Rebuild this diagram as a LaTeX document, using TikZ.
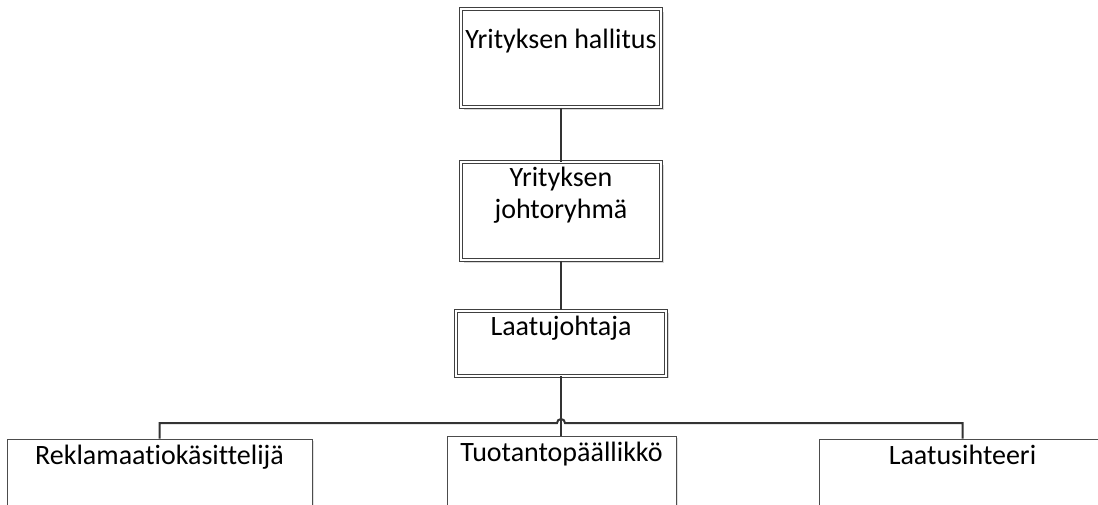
\documentclass[tikz,border=0pt]{standalone}
\usepackage{fontspec}
\setmainfont{Carlito}[Ligatures=NoCommon]
\usetikzlibrary{positioning,shadows}

\tikzset{
  orgbox/.style={draw=black!75, fill=white, double, double distance=2pt,
    line width=1pt, inner sep=0pt,
    drop shadow={shadow xshift=2.5pt, shadow yshift=-2.5pt, fill=black!25, opacity=.6}},
  unitbox/.style={draw=black!70, fill=white, line width=1pt, inner sep=0pt,
    minimum height=90pt,
    drop shadow={shadow xshift=2pt, shadow yshift=-2pt, fill=black!20, opacity=.6}},
  boxtext/.style={inner sep=0pt, font=\fontsize{28}{32}\selectfont, align=center},
  link/.style={draw=black!80, line width=2pt}
}

\begin{document}
\begin{tikzpicture}[x=1pt,y=-1pt]
  \clip (0,0) rectangle (1098,505);
  \fill[white] (0,0) rectangle (1098,505);
%
  \node[orgbox, minimum width=200pt, minimum height=98pt] (hallitus) at (561,58.5) {};
  \node[orgbox, minimum width=200pt, minimum height=98pt] (johto) at (561,211.5) {};
  \node[orgbox, minimum width=210pt, minimum height=65pt] (laatu) at (561,343) {};
%
  \node[unitbox, minimum width=305pt] (rekla) at (159.5,484) {};
  \node[unitbox, minimum width=229pt] (tuotanto) at (561.5,481) {};
  \node[unitbox, minimum width=287pt] (sihteeri) at (962.5,484) {};
%
  \node[boxtext, below=20pt of hallitus.north] (hallitusTxt) {Yrityksen hallitus};
  \node[boxtext, below=5pt of johto.north] (johtoTxt) {Yrityksen\\johtoryhmä};
  \node[boxtext, below=6pt of laatu.north] (laatuTxt) {Laatujohtaja};
  \node[boxtext, below=6pt of rekla.north] (reklaTxt) {Reklamaatiokäsittelijä};
  \node[boxtext, below=6pt of tuotanto.north] (tuotantoTxt) {Tuotantopäällikkö};
  \node[boxtext, below=6pt of sihteeri.north] (sihteeriTxt) {Laatusihteeri};
%
  \draw[link] (hallitus) -- (johto);
  \draw[link] (johto) -- (laatu);
  \draw[link] (laatu.south) -- (laatu.south |- tuotanto.north);
%
  \coordinate (hopL) at (557,423);
  \draw[link] (rekla.north) |- (hopL) arc[start angle=180, end angle=0, radius=4pt]
    -| (sihteeri.north);
%
\end{tikzpicture}
\end{document}
